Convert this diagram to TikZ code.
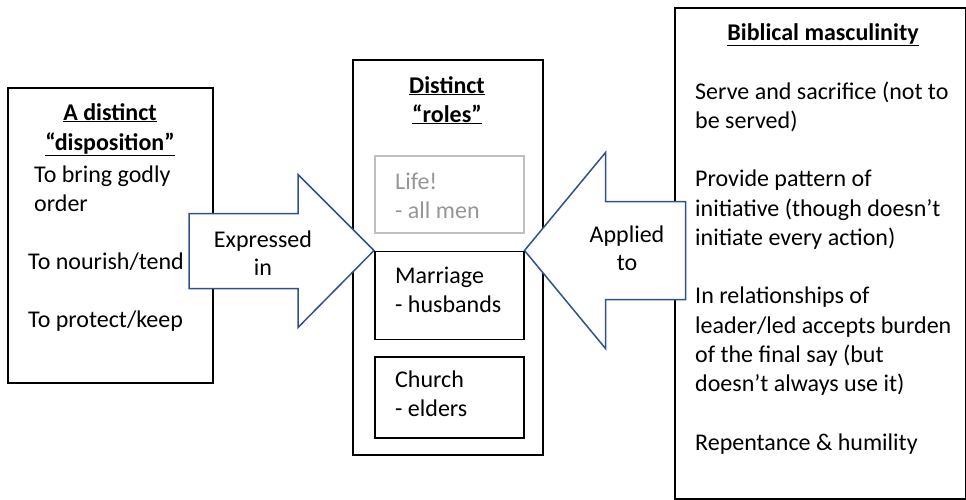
\documentclass[tikz,border=0pt]{standalone}
\usepackage{fontspec}
\setmainfont{Carlito}
\usetikzlibrary{positioning}
\definecolor{arrowblue}{RGB}{47,82,143}
\definecolor{lifegray}{RGB}{191,191,191}
\definecolor{lifetext}{RGB}{150,150,150}

\begin{document}
\begin{tikzpicture}[x=1pt,y=-1pt,
  every node/.style={inner sep=0pt, font=\fontsize{24}{29.3}\selectfont},
  box/.style={draw, line width=1.5pt, anchor=north west},
  inbox/.style={box, minimum width=149pt},
  blockarrow/.style={draw=arrowblue, fill=white, line width=1.5pt, line join=miter},
  txt/.style={anchor=base west},
  ctxt/.style={anchor=base},
  head/.style={anchor=base, font=\fontsize{24}{29.3}\selectfont\bfseries}]
  \useasboundingbox (0,0) rectangle (966,499);
  % boxes
  \node[box, minimum width=205pt, minimum height=295pt] (dispo) at (7,87) {};
  \node[box, minimum width=190pt, minimum height=395pt] (roles) at (352,59) {};
  \node[inbox, draw=lifegray, minimum height=77pt] (life) at (374,155) {};
  \node[inbox, minimum height=88pt, below=17pt of life.south west, anchor=north west] (marriage) {};
  \node[inbox, minimum height=81pt, below=16pt of marriage.south west, anchor=north west] (church) {};
  \node[box, minimum width=291pt, minimum height=491pt] (masc) at (674,7) {};

  % left box text
  \node[head] (dispo1) at (110,120) {\underline{A distinct}};
  \node[head] (dispo2) at (110,150) {\underline{“disposition”}};
  \node[txt] (order1) at (34,182) {To bring godly};
  \node[txt] (order2) at (34,211) {order};
  \node[txt] (tend) at (28,269) {To nourish/tend};
  \node[txt] (keep) at (28,327) {To protect/keep};

  % middle box text
  \node[head] (roles1) at (447,93) {\underline{Distinct}};
  \node[head] (roles2) at (447,122) {\underline{“roles”}};
  \node[txt, text=lifetext] (life1) at (395,189) {Life!};
  \node[txt, text=lifetext] (life2) at (395,218) {- all men};
  \node[txt] (marriage1) at (395,283) {Marriage};
  \node[txt] (marriage2) at (395,312) {- husbands};
  \node[txt] (church1) at (395,387) {Church};
  \node[txt] (church2) at (395,416) {- elders};

  % block arrows
  \draw[blockarrow] (marriage.north west) -- ++(-76,-76) -- ++(0,39) -- ++(-109,0)
    -- ++(0,75) -- ++(109,0) -- ++(0,39) -- cycle;
  \draw[blockarrow] (marriage.north east) -- ++(81,-98) -- ++(0,49) -- ++(80,0)
    -- ++(0,98) -- ++(-80,0) -- ++(0,49) -- cycle;
  \node[ctxt] (expr1) at (263,247) {Expressed};
  \node[ctxt] (expr2) at (263,275) {in};
  \node[ctxt] (appl1) at (627,242) {Applied};
  \node[ctxt] (appl2) at (627,270) {to};

  % right box text
  \node[head] (masc0) at (823,40) {\underline{Biblical masculinity}};
  \foreach \k/\txt in {0/Serve and sacrifice (not to, 1/be served),
      3/Provide pattern of, 4/initiative (though doesn’t, 5/initiate every action),
      7/In relationships of, 8/{leader/led accepts burden}, 9/of the final say (but,
      10/doesn’t always use it), 12/Repentance \& humility}
    \node[txt] (masc\k) at (695,99+29.25*\k) {\txt};
\end{tikzpicture}
\end{document}
